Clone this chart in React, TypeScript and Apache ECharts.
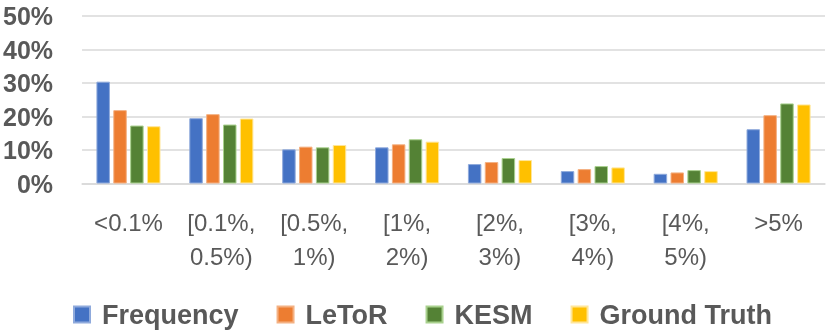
import React, { useEffect, useRef } from "react";
import * as echarts from "echarts";

const categories = ["<0.1%", "[0.1%,\n0.5%)", "[0.5%,\n1%)", "[1%,\n2%)", "[2%,\n3%)", "[3%,\n4%)", "[4%,\n5%)", ">5%"];
const seriesNames = ["Frequency", "LeToR", "KESM", "Ground Truth"];
const frequency = [30.4, 19.5, 10.2, 10.8, 5.8, 3.7, 2.9, 16.2];
const letor = [21.9, 20.7, 11.0, 11.7, 6.4, 4.3, 3.3, 20.4];
const kesm = [17.3, 17.6, 10.8, 13.2, 7.6, 5.2, 4.0, 23.9];
const groundTruth = [17.1, 19.4, 11.5, 12.5, 7.0, 4.8, 3.7, 23.6];
const yTicks = [0, 10, 20, 30, 40, 50];

const colors = ["#4472C4", "#ED7D31", "#548235", "#FFC000"];
const borders = ["#8FAADC", "#F4B183", "#A9D18E", "#FFE699"];
const FONT = "'Liberation Sans', Arial, sans-serif";

export default function App() {
  const ref = useRef<HTMLDivElement>(null);
  useEffect(() => {
    if (!ref.current) return;
    const chart = echarts.init(ref.current, undefined, { renderer: "svg" });
    const data = [frequency, letor, kesm, groundTruth];
    chart.setOption({
      animation: false,
      grid: { left: 81, right: 5, top: 16, bottom: 147.5 },
      legend: {
        left: 68,
        top: 296,
        itemWidth: 16,
        itemHeight: 16,
        itemGap: 38,
        icon: "rect",
        textStyle: { fontFamily: FONT, fontSize: 27, fontWeight: "bold", color: "#595959", padding: [0, 0, 0, 7] },
        data: seriesNames,
      },
      xAxis: {
        type: "category",
        data: categories,
        axisTick: { show: false },
        axisLine: { lineStyle: { color: "#d9d9d9", width: 1.5 } },
        axisLabel: { fontFamily: FONT, fontSize: 24, color: "#595959", lineHeight: 34, margin: 22, interval: 0 },
      },
      yAxis: {
        type: "value",
        min: yTicks[0],
        max: yTicks[yTicks.length - 1],
        interval: 10,
        axisLabel: { fontFamily: FONT, fontSize: 25, fontWeight: "bold", color: "#595959", margin: 29, formatter: "{value}%" },
        splitLine: { lineStyle: { color: "#d9d9d9", width: 1.5 } },
        axisLine: { show: false },
        axisTick: { show: false },
      },
      series: seriesNames.map((name, i) => ({
        name,
        type: "bar",
        data: data[i],
        barGap: "25%",
        barCategoryGap: "31%",
        itemStyle: { color: colors[i], borderColor: borders[i], borderWidth: 1 },
      })),
    });
    return () => chart.dispose();
  }, []);
  return <div ref={ref} style={{ position: "fixed", left: 0, top: 0, width: 830, height: 331 }} />;
}
